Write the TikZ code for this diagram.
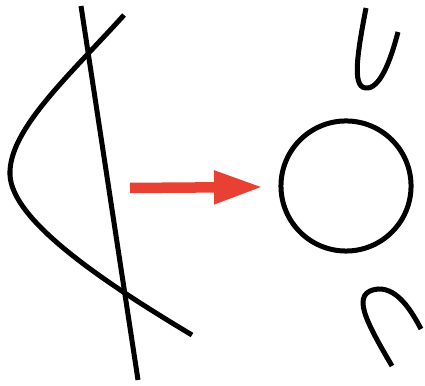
\documentclass[tikz,border=0pt]{standalone}
\usetikzlibrary{arrows.meta}

\tikzset{
  stroke/.style={line width=0.05cm, black},
  redarrow/.style={line width=0.105cm, draw=arrowred, -{Triangle[length=0.49cm, width=0.31cm]}},
}
\definecolor{arrowred}{HTML}{E84133}

\begin{document}
\begin{tikzpicture}[x=0.01cm, y=-0.01cm]
  \useasboundingbox (0,0) rectangle (425,386);

  % Left: curve cut by a straight line
  \draw[stroke] (124,15) .. controls (70,75) and (8,130) .. (10,175)
                         .. controls (12,220) and (100,280) .. (192,335);
  \draw[stroke] (81,6) -- (138,380);

  % Arrow to the circle
  \coordinate (arrowtail) at (130,188);
  \coordinate (arrowhead) at (263,187);
  \draw[redarrow] (arrowtail) -- (arrowhead);

  % Right: circle with two open arcs
  \node[draw, stroke, circle, minimum size=1.30cm, inner sep=0pt] (ring) at (346,186) {};
  \draw[stroke] (366,8) .. controls (356,60) and (352,90) .. (368,88)
                        .. controls (382,86) and (392,55) .. (398,32);
  \draw[stroke] (392,366) .. controls (365,320) and (350,292) .. (378,289)
                          .. controls (398,288) and (412,312) .. (421,329);
\end{tikzpicture}
\end{document}
